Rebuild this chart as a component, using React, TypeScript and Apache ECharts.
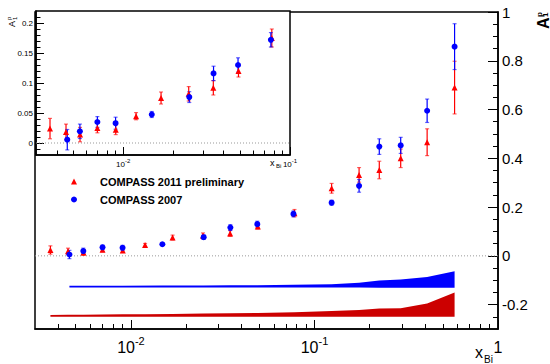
import React, { useEffect, useRef } from 'react';
import * as echarts from 'echarts';

// ---- data ----
const redX = [0.00364, 0.00454, 0.00551, 0.0070, 0.00902, 0.01194, 0.01686, 0.0247, 0.0347, 0.0491, 0.0778, 0.124, 0.175, 0.2255, 0.295, 0.411, 0.58];
const redY = [0.024, 0.0185, 0.014, 0.025, 0.022, 0.0447, 0.075, 0.082, 0.092, 0.120, 0.175, 0.277, 0.332, 0.352, 0.400, 0.466, 0.690];
const redErr = [0.017, 0.013, 0.012, 0.008, 0.008, 0.006, 0.010, 0.012, 0.012, 0.010, 0.015, 0.020, 0.030, 0.036, 0.038, 0.055, 0.108];

const blueX = [0.00462, 0.0055, 0.0070, 0.0090, 0.01483, 0.0249, 0.0348, 0.0488, 0.0768, 0.124, 0.175, 0.2255, 0.295, 0.411, 0.58];
const blueY = [0.0055, 0.0195, 0.035, 0.033, 0.0475, 0.0765, 0.116, 0.130, 0.172, 0.218, 0.287, 0.448, 0.453, 0.595, 0.858];
const blueErr = [0.017, 0.012, 0.009, 0.010, 0.005, 0.009, 0.012, 0.012, 0.012, 0.010, 0.026, 0.032, 0.033, 0.048, 0.094];

// systematic bands (lower / upper edges at each data x)
const blueBandLow = [-0.130, -0.130, -0.130, -0.130, -0.130, -0.130, -0.130, -0.130, -0.130, -0.130, -0.130, -0.131, -0.131, -0.131, -0.131];
const blueBandHigh = [-0.123, -0.123, -0.123, -0.123, -0.122, -0.122, -0.121, -0.121, -0.119, -0.116, -0.110, -0.101, -0.097, -0.087, -0.063];
const redBandLow = [-0.250, -0.250, -0.250, -0.250, -0.250, -0.250, -0.250, -0.250, -0.250, -0.250, -0.250, -0.250, -0.250, -0.250, -0.250, -0.250, -0.250];
const redBandHigh = [-0.243, -0.242, -0.242, -0.241, -0.240, -0.239, -0.238, -0.236, -0.235, -0.234, -0.231, -0.226, -0.222, -0.216, -0.215, -0.195, -0.150];

const seriesNames = ['COMPASS 2011 preliminary', 'COMPASS 2007'];

// axes
const mainXRange = [0.003, 1];
const mainYRange = [-0.3, 1];
const insetXRange = [0.003, 0.1];
const insetYRange = [-0.02, 0.22];

const mainXMajor = [0.01, 0.1, 1];
const mainXLabelBase = ['10', '10', '1'];
const mainXLabelExp = ['-2', '-1', ''];
const mainXMinor = [0.004, 0.005, 0.006, 0.007, 0.008, 0.009, 0.02, 0.03, 0.04, 0.05, 0.06, 0.07, 0.08, 0.09, 0.2, 0.3, 0.4, 0.5, 0.6, 0.7, 0.8, 0.9];
const mainYMajor = [-0.2, 0, 0.2, 0.4, 0.6, 0.8, 1];
const mainYMinor = [-0.25, -0.15, -0.1, -0.05, 0.05, 0.1, 0.15, 0.25, 0.3, 0.35, 0.45, 0.5, 0.55, 0.65, 0.7, 0.75, 0.85, 0.9, 0.95];

const insetXMajor = [0.01, 0.1];
const insetXLabelBase = ['10', '10'];
const insetXLabelExp = ['-2', '-1'];
const insetXMinor = [0.004, 0.005, 0.006, 0.007, 0.008, 0.009, 0.02, 0.03, 0.04, 0.05, 0.06, 0.07, 0.08, 0.09];
const insetYMajor = [0, 0.05, 0.1, 0.15, 0.2];
const insetYMinor = [-0.01, 0.01, 0.02, 0.03, 0.04, 0.06, 0.07, 0.08, 0.09, 0.11, 0.12, 0.13, 0.14, 0.16, 0.17, 0.18, 0.19, 0.21];

const FONT = 'Liberation Sans, Arial, Helvetica, sans-serif';
const RED = '#ff0000';
const BLUE = '#0000ff';

function errRender(color: string, cap: number, lw: number) {
  return (params: any, api: any) => {
    const x = api.value(0), y = api.value(1), e = api.value(2);
    const t = api.coord([x, y + e]);
    const b = api.coord([x, y - e]);
    const st = { stroke: color, lineWidth: lw };
    return {
      type: 'group',
      children: [
        { type: 'line', shape: { x1: t[0], y1: t[1], x2: b[0], y2: b[1] }, style: st },
        { type: 'line', shape: { x1: t[0] - cap, y1: t[1], x2: t[0] + cap, y2: t[1] }, style: { ...st, opacity: 0.6 } },
        { type: 'line', shape: { x1: b[0] - cap, y1: b[1], x2: b[0] + cap, y2: b[1] }, style: { ...st, opacity: 0.6 } },
      ],
    };
  };
}

function bandRender(xs: number[], lo: number[], hi: number[], color: string) {
  return (params: any, api: any) => {
    if (params.dataIndex !== 0) return null;
    const pts: number[][] = [];
    for (let i = 0; i < xs.length; i++) pts.push(api.coord([xs[i], hi[i]]));
    for (let i = xs.length - 1; i >= 0; i--) pts.push(api.coord([xs[i], lo[i]]));
    return { type: 'polygon', shape: { points: pts }, style: { fill: color } };
  };
}

function expFormatter(major: number[], base: string[], exp: string[]) {
  return (v: number) => {
    const i = major.findIndex((m) => Math.abs(Math.log10(m) - Math.log10(v)) < 1e-6);
    if (i < 0) return '';
    return exp[i] ? `{b|${base[i]}}{s|${exp[i]}}` : `{b|${base[i]}}`;
  };
}

export default function App() {
  const ref = useRef<HTMLDivElement>(null);
  useEffect(() => {
    if (!ref.current) return;
    const chart = echarts.init(ref.current, undefined, { renderer: 'svg' });

    const insetRed = redX.map((x, i) => [x, redY[i], redErr[i]]).filter((d) => d[0] < insetXRange[1]);
    const insetBlue = blueX.map((x, i) => [x, blueY[i], blueErr[i]]).filter((d) => d[0] < insetXRange[1]);

    const option: any = {
      animation: false,
      backgroundColor: '#fff',
      textStyle: { fontFamily: FONT },
      grid: [
        { left: 35, top: 12, width: 463, height: 317, show: true, borderColor: '#000', borderWidth: 1.5, backgroundColor: 'transparent' },
        { left: 36, top: 11, width: 254, height: 144, show: true, borderColor: '#000', borderWidth: 1.5, backgroundColor: '#fff', z: 10 },
      ],
      xAxis: [
        {
          type: 'log', gridIndex: 0, position: 'bottom', min: mainXRange[0], max: mainXRange[1],
          axisLine: { onZero: false, lineStyle: { color: '#000', width: 1.5 } },
          axisTick: { inside: true, length: 9, customValues: mainXMajor, lineStyle: { color: '#000' } },
          axisLabel: {
            customValues: mainXMajor, margin: 6, formatter: expFormatter(mainXMajor, mainXLabelBase, mainXLabelExp),
            rich: {
              b: { fontSize: 16, fontFamily: FONT, color: '#000', lineHeight: 20, verticalAlign: 'bottom' },
              s: { fontSize: 11, fontFamily: FONT, color: '#000', lineHeight: 20, verticalAlign: 'top' },
            },
          },
          splitLine: { show: false }, minorTick: { show: false },
        },
        {
          type: 'log', gridIndex: 0, position: 'bottom', min: mainXRange[0], max: mainXRange[1],
          axisLine: { show: false, onZero: false },
          axisTick: { inside: true, length: 5, customValues: mainXMinor, lineStyle: { color: '#000' } },
          axisLabel: { show: false }, splitLine: { show: false },
        },
        {
          type: 'log', gridIndex: 1, position: 'bottom', min: insetXRange[0], max: insetXRange[1], z: 11,
          axisLine: { onZero: false, lineStyle: { color: '#000', width: 1.5 } },
          axisTick: { inside: true, length: 8, customValues: insetXMajor, lineStyle: { color: '#000' } },
          axisLabel: {
            customValues: insetXMajor, margin: 3, formatter: expFormatter(insetXMajor, insetXLabelBase, insetXLabelExp),
            rich: {
              b: { fontSize: 8, fontFamily: FONT, color: '#000', lineHeight: 10, verticalAlign: 'bottom' },
              s: { fontSize: 6, fontFamily: FONT, color: '#000', lineHeight: 10, verticalAlign: 'top' },
            },
          },
          splitLine: { show: false },
        },
        {
          type: 'log', gridIndex: 1, position: 'bottom', min: insetXRange[0], max: insetXRange[1], z: 11,
          axisLine: { show: false, onZero: false },
          axisTick: { inside: true, length: 4.5, customValues: insetXMinor, lineStyle: { color: '#000' } },
          axisLabel: { show: false }, splitLine: { show: false },
        },
      ],
      yAxis: [
        {
          type: 'value', gridIndex: 0, position: 'right', min: mainYRange[0], max: mainYRange[1],
          axisLine: { show: true, onZero: false, lineStyle: { color: '#000', width: 1.5 } },
          axisTick: { show: true, inside: true, length: 10, customValues: mainYMajor, lineStyle: { color: '#000' } },
          axisLabel: { customValues: mainYMajor, margin: 4, fontSize: 15, color: '#000', fontFamily: FONT },
          splitLine: { show: false },
        },
        {
          type: 'value', gridIndex: 0, position: 'right', min: mainYRange[0], max: mainYRange[1],
          axisLine: { show: false, onZero: false },
          axisTick: { show: true, inside: true, length: 5, customValues: mainYMinor, lineStyle: { color: '#000' } },
          axisLabel: { show: false }, splitLine: { show: false },
        },
        {
          type: 'value', gridIndex: 1, position: 'left', min: insetYRange[0], max: insetYRange[1], z: 11,
          axisLine: { show: true, onZero: false, lineStyle: { color: '#000', width: 1.5 } },
          axisTick: { show: true, inside: true, length: 8, customValues: insetYMajor, lineStyle: { color: '#000' } },
          axisLabel: { customValues: insetYMajor, margin: 3, fontSize: 8, color: '#000', fontFamily: FONT },
          splitLine: { show: false },
        },
        {
          type: 'value', gridIndex: 1, position: 'left', min: insetYRange[0], max: insetYRange[1], z: 11,
          axisLine: { show: false, onZero: false },
          axisTick: { show: true, inside: true, length: 4.5, customValues: insetYMinor, lineStyle: { color: '#000' } },
          axisLabel: { show: false }, splitLine: { show: false },
        },
      ],
      legend: {
        orient: 'vertical', left: 66, top: 171, itemWidth: 6, itemHeight: 6, itemGap: 7,
        data: seriesNames,
        textStyle: { fontFamily: FONT, fontWeight: 'bold', fontSize: 11, color: '#000', padding: [0, 0, 0, 18] },
      },
      graphic: [
        {
          type: 'group', x: 543, y: 29, rotation: Math.PI / 2,
          children: [
            { type: 'text', x: 0, y: 0, style: { text: 'A', font: `bold 16px ${FONT}`, fill: '#000', align: 'left', verticalAlign: 'middle' } },
            { type: 'text', x: 12, y: -4, style: { text: 'p', font: `bold 8px ${FONT}`, fill: '#000', align: 'left', verticalAlign: 'middle' } },
            { type: 'text', x: 12, y: 2, style: { text: '1', font: `bold 8px ${FONT}`, fill: '#000', align: 'left', verticalAlign: 'middle' } },
          ],
        },
        {
          type: 'group', x: 12, y: 27, rotation: Math.PI / 2,
          children: [
            { type: 'text', x: 0, y: 0, style: { text: 'A', font: `9px ${FONT}`, fill: '#000', align: 'left', verticalAlign: 'middle' } },
            { type: 'text', x: 7, y: -3, style: { text: 'p', font: `6px ${FONT}`, fill: '#000', align: 'left', verticalAlign: 'middle' } },
            { type: 'text', x: 7, y: 3, style: { text: '1', font: `6px ${FONT}`, fill: '#000', align: 'left', verticalAlign: 'middle' } },
          ],
        },
        { type: 'text', x: 475, y: 352, style: { text: 'x', font: `16px ${FONT}`, fill: '#000', align: 'left', verticalAlign: 'middle' } },
        { type: 'text', x: 484, y: 359, style: { text: 'Bi', font: `10px ${FONT}`, fill: '#000', align: 'left', verticalAlign: 'middle' } },
        { type: 'text', x: 270, y: 163, z: 20, style: { text: 'x', font: `9px ${FONT}`, fill: '#000', align: 'left', verticalAlign: 'middle' } },
        { type: 'text', x: 276, y: 166, z: 20, style: { text: 'Bi', font: `6px ${FONT}`, fill: '#000', align: 'left', verticalAlign: 'middle' } },
      ],
      series: [
        // main: zero line
        {
          type: 'line', xAxisIndex: 0, yAxisIndex: 0, data: [[mainXRange[0], 0], [mainXRange[1], 0]],
          symbol: 'none', lineStyle: { color: '#999', width: 1, type: [1, 2] }, silent: true, z: 1,
        },
        // bands
        {
          type: 'custom', xAxisIndex: 0, yAxisIndex: 0, encode: { x: 0, y: 1 },
          data: blueX.map((x, i) => [x, blueBandLow[i], blueBandHigh[i]]),
          renderItem: bandRender(blueX, blueBandLow, blueBandHigh, BLUE), z: 2,
        },
        {
          type: 'custom', xAxisIndex: 0, yAxisIndex: 0, encode: { x: 0, y: 1 },
          data: redX.map((x, i) => [x, redBandLow[i], redBandHigh[i]]),
          renderItem: bandRender(redX, redBandLow, redBandHigh, '#cc0000'), z: 2,
        },
        // error bars
        {
          type: 'custom', xAxisIndex: 0, yAxisIndex: 0, encode: { x: 0, y: 1 },
          data: redX.map((x, i) => [x, redY[i], redErr[i]]), renderItem: errRender(RED, 2, 1.2), z: 3,
        },
        {
          type: 'custom', xAxisIndex: 0, yAxisIndex: 0, encode: { x: 0, y: 1 },
          data: blueX.map((x, i) => [x, blueY[i], blueErr[i]]), renderItem: errRender(BLUE, 2, 1.2), z: 3,
        },
        {
          name: seriesNames[0], type: 'scatter', xAxisIndex: 0, yAxisIndex: 0, symbol: 'triangle', symbolSize: 6,
          itemStyle: { color: RED, opacity: 1 }, data: redX.map((x, i) => [x, redY[i]]), z: 4,
        },
        {
          name: seriesNames[1], type: 'scatter', xAxisIndex: 0, yAxisIndex: 0, symbol: 'circle', symbolSize: 6,
          itemStyle: { color: BLUE, opacity: 1 }, data: blueX.map((x, i) => [x, blueY[i]]), z: 4,
        },
        // inset
        {
          type: 'line', xAxisIndex: 2, yAxisIndex: 2, data: [[insetXRange[0], 0], [insetXRange[1], 0]],
          symbol: 'none', lineStyle: { color: '#999', width: 1, type: [1, 2] }, silent: true, z: 12,
        },
        {
          type: 'custom', xAxisIndex: 2, yAxisIndex: 2, encode: { x: 0, y: 1 },
          data: insetRed, renderItem: errRender(RED, 2, 1.2), z: 13,
        },
        {
          type: 'custom', xAxisIndex: 2, yAxisIndex: 2, encode: { x: 0, y: 1 },
          data: insetBlue, renderItem: errRender(BLUE, 2, 1.2), z: 13,
        },
        {
          name: 'inset2011', type: 'scatter', xAxisIndex: 2, yAxisIndex: 2, symbol: 'triangle', symbolSize: 6,
          itemStyle: { color: RED, opacity: 1 }, data: insetRed.map((d) => [d[0], d[1]]), z: 14,
        },
        {
          name: 'inset2007', type: 'scatter', xAxisIndex: 2, yAxisIndex: 2, symbol: 'circle', symbolSize: 6,
          itemStyle: { color: BLUE, opacity: 1 }, data: insetBlue.map((d) => [d[0], d[1]]), z: 14,
        },
      ],
    };
    chart.setOption(option);
    return () => chart.dispose();
  }, []);
  return <div ref={ref} style={{ width: 550, height: 364, position: 'absolute', left: 0, top: 0 }} />;
}
